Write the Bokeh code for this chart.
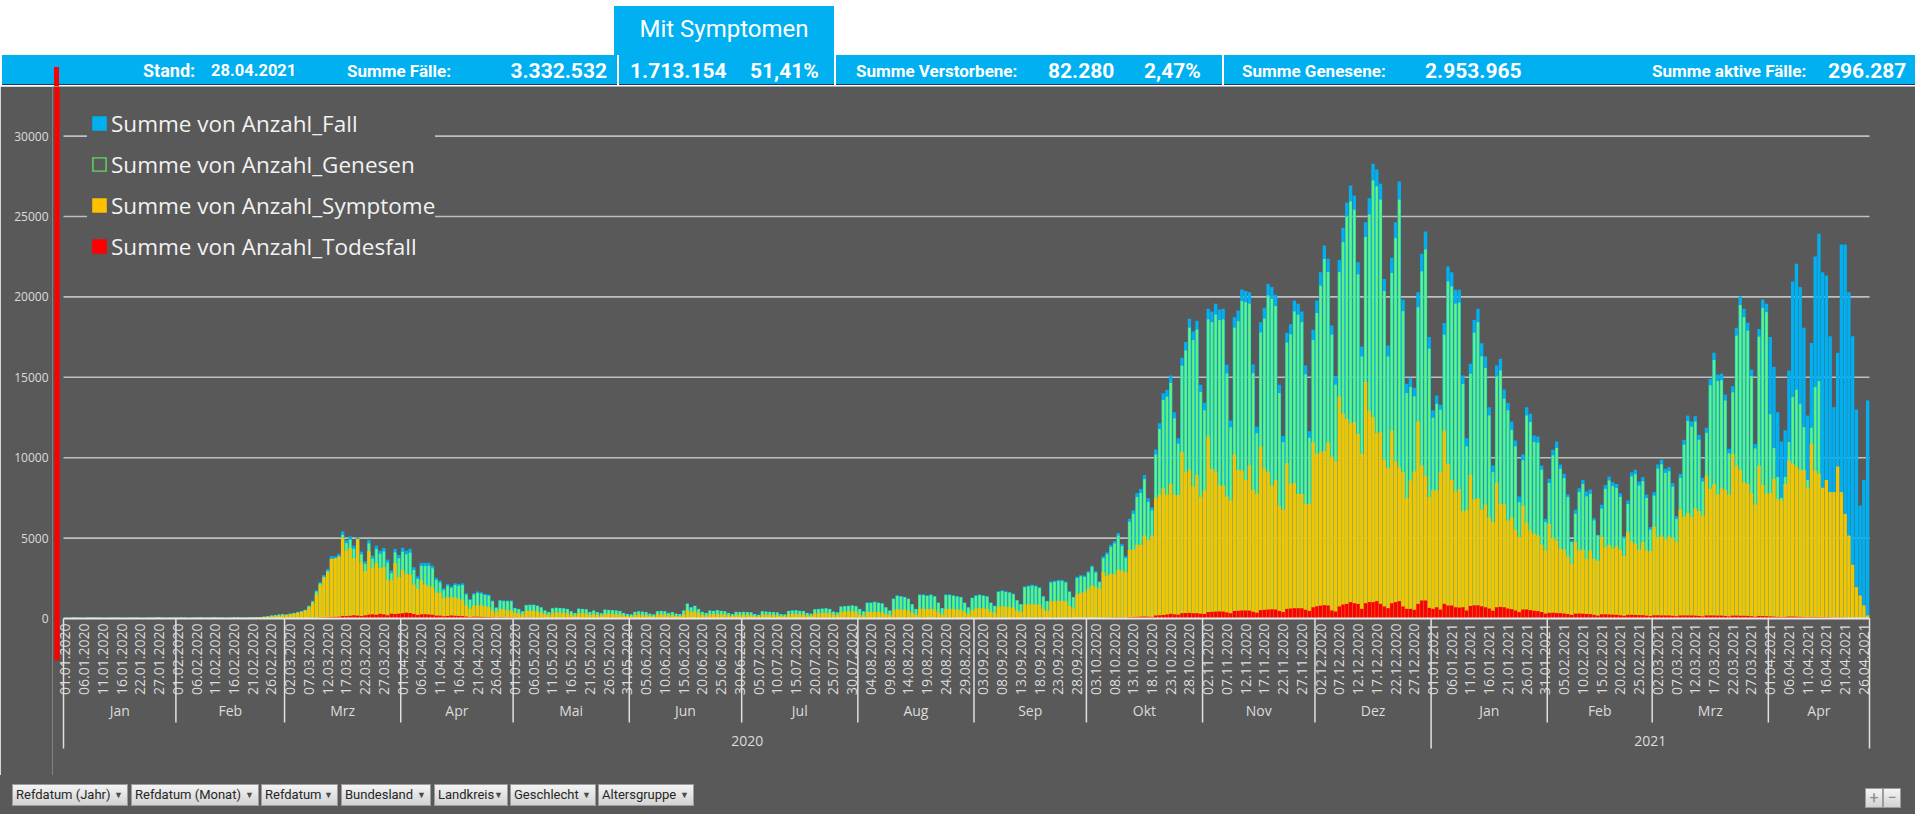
import math
from datetime import date, timedelta
from bokeh.plotting import figure
from bokeh.models import Range1d, FixedTicker, ColumnDataSource, Legend, LegendItem, Div
from bokeh.layouts import column
from bokeh.embed import file_html
from bokeh.resources import INLINE
from bokeh.core.properties import value

# ------------------------------------------------------------------ categories
first_day = date(2020, 1, 1)
last_day = date(2021, 4, 27)
missing_days = [date(2020, 1, 19)]
month_names = ["Jan", "Feb", "Mrz", "Apr", "Mai", "Jun", "Jul", "Aug", "Sep", "Okt", "Nov", "Dez"]
y_ticks = [0, 5000, 10000, 15000, 20000, 25000, 30000]
label_every = 5

series_labels = ["Summe von Anzahl_Fall", "Summe von Anzahl_Genesen",
                 "Summe von Anzahl_Symptome", "Summe von Anzahl_Todesfall"]

# ------------------------------------------------------------------ values (per day)
fall = [
    40,35,45,50,40,30,45,55,50,45,40,35,50,55,45,40,35,45,50,55,40,35,45,50,55,60,45,40,50,55,  # Jan 20
    50,55,45,40,50,55,60,50,45,55,60,50,45,40,55,60,65,55,50,60,70,75,90,120,150,190,220,250,280,  # Feb 20
    250,300,350,400,460,550,800,1100,1740,2260,2710,3080,3870,3870,4020,5420,4880,5110,4530,5050,4160,3560,4880,3910,4530,4220,4390,3660,2980,4330,3950,  # Mrz 20
    4390,4220,4330,3190,2610,3460,3460,3460,3290,2530,2360,1880,2150,2010,2190,2150,2190,1570,1220,1570,1680,1630,1530,1490,1120,700,1160,1120,1120,1120,  # Apr 20
    660,600,450,850,870,870,810,700,500,400,640,680,660,640,600,450,350,620,600,580,420,500,400,330,560,540,520,500,470,350,280,  # Mai 20
    250,420,450,430,400,300,250,450,480,450,350,400,300,280,500,940,700,800,600,420,350,500,480,520,480,450,350,280,420,400,  # Jun 20
    420,400,380,280,230,450,430,420,400,380,280,250,480,500,520,480,470,350,300,580,600,620,640,600,430,380,750,780,800,820,780,  # Jul 20
    600,450,1000,1000,1050,1000,950,700,500,1250,1450,1400,1350,1250,900,600,1500,1500,1450,1500,1400,1000,650,1500,1500,1450,1400,1350,1000,700,1300,  # Aug 20
    1450,1500,1450,1400,1000,800,1700,1750,1700,1650,1550,1150,900,2000,2050,2100,2050,1950,1400,1100,2300,2350,2400,2400,2300,1700,1350,2600,2700,2670,  # Sep 20
    2940,3300,2940,2320,3860,4120,4580,4810,5310,4640,3880,6200,6720,7800,8060,8930,7480,6920,10510,12150,14010,14220,15110,12830,11210,16210,17190,18640,17850,18510,14530,  # Okt 20
    13410,19260,19090,19570,19220,19260,15780,12310,18740,19150,20460,20360,20290,15800,11940,18430,19320,20810,20610,20130,14530,11360,17770,18300,19780,19570,19090,15730,11650,17950,  # Nov 20
    19780,21540,23200,22370,18220,15050,22300,24300,25850,26930,26300,22160,16920,24650,26140,28280,27920,27030,21120,16980,22430,24650,27180,19840,14590,14970,14350,20290,22680,24070,17500,  # Dez 20
    12940,13870,13290,18370,21890,21540,20440,20440,15110,11210,15840,18570,19260,17120,16290,13140,9510,15730,16150,14240,13410,12250,11070,7590,10200,13140,12730,11380,11320,9510,6200,  # Jan 21
    8690,10490,11010,9580,9000,7710,4850,6760,8100,8620,7900,8020,6240,5200,7070,8310,8830,8480,8370,7790,5120,7340,9100,9250,8520,8790,7710,5680,  # Feb 21
    7860,9580,9870,9310,9410,8420,6360,9000,11110,12620,12250,12580,11420,8750,11860,14900,16520,15170,15220,13930,10550,14450,18080,20030,19260,18390,15490,10860,18010,19840,19570,  # Mrz 21
    17500,15650,12830,11000,11700,15420,20960,22060,20610,18080,12620,17140,22510,23920,21540,21330,17560,13140,16520,23260,23260,20290,17560,13000,7030,8620,13560,  # Apr 21
]

genesen = [
    38,33,43,48,38,28,43,53,48,43,38,33,48,53,43,38,33,43,48,53,38,33,43,48,53,58,43,38,48,53,
    48,53,43,38,48,53,58,48,43,53,58,48,43,38,53,58,63,53,48,58,68,72,86,115,144,182,210,238,266,
    240,288,335,384,440,526,765,1050,1670,2170,2600,2950,3710,3700,3850,5200,4680,4900,4330,4840,3980,3400,4660,3720,4310,4020,4160,3470,2820,4100,3740,
    4150,3980,4090,3010,2460,3270,3270,3270,3110,2390,2230,1770,2030,1900,2070,2030,2070,1480,1150,1480,1590,1540,1450,1410,1060,660,1100,1060,1060,1060,
    635,578,433,820,840,840,782,676,483,386,618,657,637,618,580,435,338,600,580,560,405,483,386,318,541,522,502,483,454,338,270,
    242,406,435,416,387,290,242,435,464,435,338,387,290,271,484,912,678,775,581,406,338,484,464,503,464,435,338,271,406,387,
    406,387,367,271,222,435,416,406,387,367,271,242,464,484,503,464,454,338,290,561,580,600,619,580,416,367,726,755,774,794,755,
    581,435,968,968,1016,968,920,678,484,1210,1404,1355,1307,1210,871,581,1452,1452,1404,1452,1355,968,629,1452,1452,1404,1355,1307,968,678,1258,
    1404,1452,1404,1355,968,774,1646,1694,1646,1597,1500,1113,871,1936,1984,2033,1984,1888,1355,1065,2226,2275,2323,2323,2226,1646,1307,2517,2614,2585,
    2850,3200,2850,2250,3740,3990,4440,4660,5150,4500,3760,6010,6510,7560,7810,8660,7250,6710,10190,11780,13590,13790,14650,12440,10870,15720,16670,18080,17310,17950,14090,
    12940,18590,18420,18890,18550,18590,15230,11880,18080,18480,19740,19650,19580,15250,11520,17790,18640,20080,19890,19430,14020,10960,17150,17660,19090,18890,18420,15180,11240,17320,
    19000,20700,22350,21550,17640,14540,21540,23400,25000,25930,25420,21390,16290,23720,25120,27240,26870,26040,20360,16290,21480,23650,26040,19110,14010,14390,13810,19360,21580,22950,16770,
    12480,13350,12980,17640,20960,20650,19570,19630,14590,10700,15220,17770,18430,16290,15570,12620,9100,15050,15420,13660,12940,11730,10700,7230,9830,12620,12210,10970,10930,9250,5990,
    8420,10140,10610,9310,8730,7550,4750,6510,7860,8370,7590,7750,6090,5160,6830,8060,8580,8230,8120,7560,4980,7120,8830,8980,8270,8540,7490,5520,
    7640,9310,9590,9050,9150,8190,6190,8750,10810,12280,11920,12240,11110,8510,11540,14500,16080,14760,14810,13550,10260,14060,17590,19490,18740,17890,15070,10570,17520,19300,19040,
    12700,10600,8800,7500,8800,10970,13770,14220,13350,11900,8620,11860,14390,14760,0,0,0,0,0,0,0,0,0,0,0,0,0,
]

symptome = [
    28,25,32,35,28,21,32,38,35,32,28,25,35,38,32,28,25,32,35,38,28,25,32,35,38,42,32,28,35,38,
    35,38,32,28,35,38,42,35,32,38,42,35,32,28,38,42,45,38,35,42,49,52,63,84,105,133,154,175,196,
    220,260,300,350,400,480,700,950,1500,2100,2550,2900,3700,3750,3850,5010,4220,4390,3750,4950,3500,2940,4180,3150,3440,3150,3190,2400,2360,3440,2570,
    3040,2770,2730,2110,1840,2400,2110,2010,1950,1610,1590,1260,1320,1300,1320,1220,1120,810,600,810,810,810,770,700,500,390,600,560,500,500,
    360,330,250,470,480,480,445,385,275,220,350,370,360,350,330,250,190,340,330,320,230,275,220,180,310,300,285,275,260,190,155,
    140,230,250,235,220,165,140,250,265,250,190,220,165,155,275,520,385,440,330,230,190,275,265,285,265,250,190,155,230,220,
    230,220,210,155,125,250,235,230,220,210,155,140,265,275,285,265,260,190,165,320,330,340,350,330,235,210,410,430,440,450,430,
    240,180,400,400,420,400,380,280,200,500,580,560,540,500,360,240,600,600,580,600,560,400,260,600,600,580,560,540,400,280,520,
    620,650,630,600,430,340,730,750,730,710,670,500,390,860,880,900,880,840,600,470,1050,1080,1100,1100,1060,780,620,1500,1600,1640,
    1850,2050,1950,1850,2880,2670,2780,2740,3030,2990,2880,4270,4270,4580,4580,5160,4890,5160,7500,7690,8100,7690,8370,7690,7690,10340,9100,9250,8210,8930,7550,
    7960,11320,9310,9140,8270,8270,7590,7340,10200,9250,9200,8620,9510,8000,7750,10700,9310,9100,8270,8620,7030,6760,9660,8370,8420,7750,7750,7130,7130,10970,
    10240,10340,10410,10970,10070,9760,13800,12730,12420,12150,12210,11480,10240,14700,12900,12520,11530,11590,9870,9370,11690,9760,9410,9100,7480,8580,9140,12250,9510,8890,7550,
    8000,7960,9100,11690,9620,8620,7860,8040,6670,6760,8930,7400,7480,6760,7090,6300,5990,8420,7130,7090,6090,6300,5510,5060,7030,5930,5470,5270,5160,4600,4230,
    5890,5020,4850,4330,4290,3860,3400,4750,4230,4290,3710,4230,3710,3600,5060,4440,4580,4370,4500,4270,3900,5370,4790,4640,4290,4750,4230,4190,
    5720,5060,5160,4910,5100,5020,4750,6780,6340,6570,6300,6860,6670,6400,8890,8060,8370,7710,8100,8000,7690,10240,9510,9250,8480,8370,7790,7090,9510,8310,7750,
    7800,8690,7440,7340,8360,9830,9620,9450,9250,9250,8130,10860,9200,9000,8130,8620,7860,7860,9450,7860,6510,5160,3340,1950,1430,810,190,
]

todesfall = [
    0,5,0,0,10,0,0,0,5,0,0,0,10,0,0,0,5,0,0,0,10,0,0,0,0,5,0,0,0,10,
    0,0,5,0,0,0,0,10,0,0,0,5,0,0,0,0,10,0,0,5,0,0,0,10,0,5,10,5,10,
    5,8,10,12,15,18,25,35,45,55,65,75,90,100,110,160,150,170,200,180,150,200,240,260,230,290,260,200,300,280,300,
    330,360,340,280,220,260,270,250,230,180,180,140,160,190,170,160,150,120,90,110,110,100,95,90,70,50,70,65,60,60,
    50,45,35,45,45,40,40,35,25,20,30,30,30,25,25,20,15,20,20,18,15,15,12,10,15,14,12,12,10,8,6,
    5,8,8,8,7,6,5,8,8,7,6,6,5,4,8,10,8,9,8,6,5,6,6,7,6,6,5,4,6,6,
    6,5,5,4,3,5,5,5,5,4,3,3,5,5,5,5,4,3,3,5,5,5,5,5,4,3,6,6,6,6,6,
    5,4,6,6,6,6,6,4,4,6,6,6,6,6,5,4,6,6,6,6,6,5,4,7,7,7,7,7,5,4,8,
    8,8,8,8,6,5,10,10,10,10,10,8,6,12,12,12,12,12,9,8,15,15,16,16,16,12,10,20,22,22,
    30,30,28,25,40,45,50,55,60,55,50,80,90,100,110,120,110,100,190,200,220,250,290,260,240,330,340,350,330,330,300,
    280,400,420,430,440,430,380,330,470,480,500,500,490,420,360,520,540,560,570,560,470,400,600,620,640,640,630,540,470,700,
    760,800,830,810,500,440,750,870,910,1020,950,910,600,950,1020,1020,1080,910,750,640,950,1020,1080,750,600,600,540,910,1120,1120,660,
    600,700,550,910,810,810,700,680,700,500,780,820,820,760,700,620,480,700,720,700,620,580,500,400,560,560,520,480,460,400,300,
    350,360,340,330,310,280,220,300,310,300,280,270,230,180,260,260,250,240,230,200,170,230,230,220,210,210,180,150,
    200,200,190,190,190,170,140,190,190,190,190,180,160,130,190,190,190,180,180,160,130,180,180,170,170,160,140,110,160,150,140,
    130,120,100,90,100,120,120,110,100,90,70,90,90,80,70,70,60,50,50,50,40,30,25,15,10,5,2,
]

# header figures
header_items = {
    "stand": "28.04.2021", "faelle": "3.332.532", "symptome": "1.713.154", "symptome_pct": "51,41%",
    "verstorbene": "82.280", "verstorbene_pct": "2,47%", "genesene": "2.953.965", "aktive": "296.287",
}
filter_buttons = ["Refdatum (Jahr)", "Refdatum (Monat)", "Refdatum", "Bundesland",
                  "Landkreis", "Geschlecht", "Altersgruppe"]

# ------------------------------------------------------------------ derived categories
dates = []
d = first_day
while d <= last_day:
    if d not in missing_days:
        dates.append(d)
    d += timedelta(days=1)
N = len(dates)
assert N == len(fall) == len(genesen) == len(symptome) == len(todesfall)

# ------------------------------------------------------------------ style / geometry
BG = "#595959"
BLUE = "#00b0f0"
GREEN_EDGE = "#33e2bd"
GREEN_MID = "#6cf46a"
YELLOW = "#f5c400"
RED = "#ff0000"
TXT = "#dcdcdc"

W = 1915
HEAD_H = 86
FOOT_H = 39
FIG_W, FIG_H = W, 689
AXIS_W = 52
PAD_L = 11
BAND_W = 1806
CAT_PX = BAND_W / N
BASE_PX = 532
PX_PER_UNIT = 80.4 / 5000

xs = -0.5 - PAD_L / CAT_PX
xe = xs + (FIG_W - AXIS_W) / CAT_PX
ye = BASE_PX / PX_PER_UNIT
ys = -(FIG_H - BASE_PX) / PX_PER_UNIT


def below(px):
    return -px / PX_PER_UNIT


p = figure(width=FIG_W, height=FIG_H, x_range=Range1d(xs, xe), y_range=Range1d(ys, ye),
           output_backend="svg", toolbar_location=None, x_axis_location=None,
           min_border_left=AXIS_W, min_border_right=0, min_border_top=0, min_border_bottom=0,
           background_fill_color=BG, border_fill_color=BG, outline_line_color=None)
p.xgrid.visible = False
p.ygrid.visible = False

yax = p.yaxis[0]
yax.ticker = FixedTicker(ticks=y_ticks)
yax.major_label_overrides = {t: str(t) for t in y_ticks}
yax.axis_line_color = None
yax.major_tick_line_color = None
yax.minor_tick_line_color = None
yax.major_tick_out = 0
yax.major_label_standoff = 4
yax.major_label_text_color = TXT
yax.major_label_text_font = "Open Sans"
yax.major_label_text_font_size = "12px"

# grid lines (from the y ticks, across the category band)
grid_vals = [t for t in y_ticks if t > 0]
p.segment(x0=[-0.5] * len(grid_vals), x1=[N - 0.5] * len(grid_vals), y0=grid_vals, y1=grid_vals,
          line_color="#bfbfbf", line_width=1.6)

# bars
idx = list(range(N))
src = ColumnDataSource(dict(x=idx, fall=fall, gen=genesen, sym=symptome, tod=todesfall))
p.vbar(x="x", top="fall", width=0.9, source=src, fill_color=BLUE, line_color=None)
p.vbar(x="x", top="gen", width=0.78, source=src, fill_color=GREEN_EDGE, line_color=None)
p.vbar(x="x", top="gen", width=0.42, source=src, fill_color=GREEN_MID, line_color=None)
p.vbar(x="x", top="sym", width=0.9, source=src, fill_color=YELLOW, line_color=None)
p.vbar(x="x", top="tod", width=0.9, source=src, fill_color=RED, line_color=None)

# category axis line
p.segment(x0=[-0.5], x1=[N - 0.5], y0=[0], y1=[0], line_color="#e8e8e8", line_width=2)

# date labels
lab_idx = [i for i in range(0, N, label_every)]
lab_txt = [dates[i].strftime("%d.%m.%Y") for i in lab_idx]
p.text(x=lab_idx, y=[below(5)] * len(lab_idx), text=lab_txt, angle=math.pi / 2,
       text_align="right", text_baseline="middle", text_color=TXT,
       text_font=value("Open Sans"), text_font_size="14px")

# month / year groups
month_starts = [i for i in range(N) if i == 0 or dates[i].month != dates[i - 1].month]
month_ends = month_starts[1:] + [N]
year_starts = [i for i in range(N) if i == 0 or dates[i].year != dates[i - 1].year]
year_ends = year_starts[1:] + [N]

mb = [s - 0.5 for s in month_starts if s not in year_starts]
p.segment(x0=mb, x1=mb, y0=[0] * len(mb), y1=[below(104)] * len(mb), line_color="#e0e0e0", line_width=1.5)
yb = [s - 0.5 for s in year_starts] + [N - 0.5]
p.segment(x0=yb, x1=yb, y0=[0] * len(yb), y1=[below(130)] * len(yb), line_color="#e0e0e0", line_width=1.5)

m_cx = [(s + e - 1) / 2 for s, e in zip(month_starts, month_ends)]
m_tx = [month_names[dates[s].month - 1] for s in month_starts]
p.text(x=m_cx, y=[below(92)] * len(m_cx), text=m_tx, text_align="center", text_baseline="middle",
       text_color=TXT, text_font=value("Open Sans"), text_font_size="14px")
y_cx = [(s + e - 1) / 2 for s, e in zip(year_starts, year_ends)]
y_tx = [str(dates[s].year) for s in year_starts]
p.text(x=y_cx, y=[below(122)] * len(y_cx), text=y_tx, text_align="center", text_baseline="middle",
       text_color=TXT, text_font=value("Open Sans"), text_font_size="14px")

# red marker line at the left
red_x = xs + 4.5 / CAT_PX
p.segment(x0=[red_x], x1=[red_x], y0=[below(42)], y1=[ye], line_color=RED, line_width=5)

# legend (swatch renderers hold one point outside the visible range)
off_x = [xs - 50]
off_y = [0]
SW = dict(marker="square", line_width=5, line_join="miter")
lg_fall = p.scatter(x=off_x, y=off_y, fill_color=BLUE, line_color=BLUE, **SW)
lg_gen_a = p.scatter(x=off_x, y=off_y, fill_color="#5fdc5f", line_color="#5fdc5f", **SW)
lg_gen_b = p.scatter(x=off_x, y=off_y, marker="square", fill_color=BG, line_color=BG,
                     line_width=2.2, line_join="miter")
lg_sym = p.scatter(x=off_x, y=off_y, fill_color="#ffc000", line_color="#ffc000", **SW)
lg_tod = p.scatter(x=off_x, y=off_y, fill_color=RED, line_color=RED, **SW)
legend = Legend(items=[LegendItem(label=series_labels[0], renderers=[lg_fall]),
                       LegendItem(label=series_labels[1], renderers=[lg_gen_a, lg_gen_b]),
                       LegendItem(label=series_labels[2], renderers=[lg_sym]),
                       LegendItem(label=series_labels[3], renderers=[lg_tod])],
                location=(35, 510), orientation="vertical")
legend.glyph_width = 24
legend.glyph_height = 38
legend.label_standoff = 0
legend.spacing = 3
legend.padding = 0
legend.margin = 0
legend.label_text_font = "Open Sans"
legend.label_text_font_size = "22.5px"
legend.label_text_color = "#f2f2f2"
legend.background_fill_color = BG
legend.background_fill_alpha = 1.0
legend.border_line_color = None
p.add_layout(legend)

# ------------------------------------------------------------------ header
F = "font-family:Roboto,'Liberation Sans',sans-serif;"


def t(left, txt, size, extra=""):
    return (f'<div style="position:absolute;left:{left}px;top:56px;height:30px;line-height:30px;'
            f'white-space:nowrap;color:#ffffff;font-weight:bold;font-size:{size}px;{extra}">{txt}</div>')


def sep(left):
    return f'<div style="position:absolute;left:{left}px;top:55px;width:2px;height:31px;background:#ffffff;"></div>'


header_html = (
    f'<div style="position:relative;width:{W}px;height:{HEAD_H}px;overflow:hidden;background:#ffffff;{F}">'
    f'<div style="position:absolute;left:614px;top:6px;width:220px;height:49px;background:{BLUE};"></div>'
    f'<div style="position:absolute;left:614px;top:15px;width:220px;text-align:center;color:#ffffff;'
    f'font-size:24px;line-height:28px;">Mit Symptomen</div>'
    f'<div style="position:absolute;left:2px;top:55px;width:{W}px;height:30px;background:{BLUE};'
    f'border-bottom:1px solid #1f3763;"></div>'
    + sep(617) + sep(834) + sep(1222)
    + t(143, "Stand:", 18) + t(211, header_items["stand"], 16.5)
    + t(347, "Summe Fälle:", 17)
    + t(478, header_items["faelle"], 21, "width:129px;text-align:right;")
    + t(630, header_items["symptome"], 21) + t(750, header_items["symptome_pct"], 21)
    + t(856, "Summe Verstorbene:", 17) + t(1048, header_items["verstorbene"], 21)
    + t(1144, header_items["verstorbene_pct"], 21)
    + t(1242, "Summe Genesene:", 17) + t(1425, header_items["genesene"], 21)
    + t(1652, "Summe aktive Fälle:", 17) + t(1828, header_items["aktive"], 21)
    + f'<div style="position:absolute;left:54px;top:67px;width:5px;height:19px;background:{RED};"></div>'
    + '</div>'
)
header = Div(text=header_html, width=W, height=HEAD_H, margin=(0, 0, 0, 0))

# ------------------------------------------------------------------ footer (filter buttons)
btn_left = [12, 131, 261, 341, 434, 510, 598]
btn_width = [116, 128, 77, 90, 74, 86, 96]
BTN = ("position:absolute;top:9px;height:22px;box-sizing:border-box;border:1px solid #9c9c9c;"
       "background:linear-gradient(#f4f4f4,#d2d2d2);color:#262626;font-size:13px;line-height:20px;"
       "white-space:nowrap;overflow:hidden;")
footer_parts = [f'<div style="position:relative;width:{W}px;height:{FOOT_H}px;background:{BG};{F}">']
for lbl, l, w in zip(filter_buttons, btn_left, btn_width):
    footer_parts.append(
        f'<div style="{BTN}left:{l}px;width:{w}px;padding-left:3px;">{lbl}'
        f'<span style="position:absolute;right:4px;top:0px;font-size:9px;color:#4a4a4a;">&#9660;</span></div>')
for sym, l in zip(["+", "&#8722;"], [1865, 1883]):
    footer_parts.append(
        f'<div style="{BTN}left:{l}px;width:18px;top:13px;height:20px;text-align:center;'
        f'color:#8a8a8a;font-size:16px;line-height:18px;">{sym}</div>')
footer_parts.append('</div>')
footer = Div(text="".join(footer_parts), width=W, height=FOOT_H, margin=(0, 0, 0, 0))

layout = column(header, p, footer, spacing=0)

open("out.html", "w").write(file_html(layout, INLINE))
